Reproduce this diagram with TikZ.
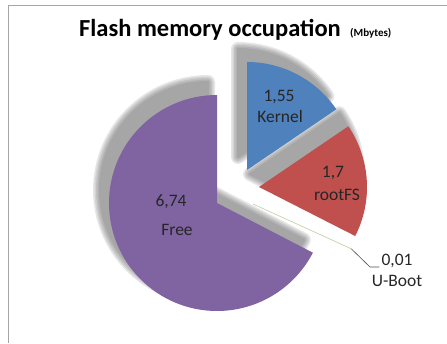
\documentclass[tikz,border=0pt]{standalone}
\usepackage{fontspec}
\setmainfont{Carlito}
\usepackage{tikz}
\usetikzlibrary{calc,positioning}
\definecolor{kernelblue}{RGB}{79,129,189}
\definecolor{rootred}{RGB}{192,80,77}
\definecolor{freepurple}{RGB}{128,100,162}
\definecolor{bootgreen}{RGB}{190,205,160}
\definecolor{framegray}{RGB}{165,165,165}
\tikzset{
  shadowlayer/.style={fill=black!60,draw=black!60,line join=round},
  lbl/.style={font=\fontsize{17.5}{20}\selectfont,inner sep=0pt,text=black!85},
  leader/.style={draw=black!70,line width=0.6pt},
}

\begin{document}
\begin{tikzpicture}[x=1pt,y=1pt]
\useasboundingbox (0,0) rectangle (447,343);
% frame of the chart area
\draw[framegray,line width=0.8pt] (8,0) -- (8,338) -- (447,338);
% title
\node[anchor=base west,inner sep=0pt,font=\fontsize{24.5}{28}\selectfont\bfseries] (title) at (79,306) {Flash memory occupation};
\node[anchor=base west,inner sep=0pt,font=\fontsize{11}{13}\selectfont\bfseries] (units) at (350,306) {(Mbytes)};
% slice centres
\coordinate (F) at (217,140);
\coordinate (K) at (247,173);
\coordinate (R) at (259,156);
\coordinate (U) at (253,139);
% soft shadows
\foreach \w in {14,11,8,5,2} {
  \begin{scope}[transparency group,opacity=0.16]
  \filldraw[shadowlayer,line width=\w pt] ($(F)+(-9,13)$) -- ++(90:108) arc[start angle=90,end angle=332.6,radius=108pt] -- cycle;
  \filldraw[shadowlayer,line width=\w pt] ($(K)+(-9,13)$) -- ++(34.2:108) arc[start angle=34.2,end angle=90,radius=108pt] -- cycle;
  \filldraw[shadowlayer,line width=\w pt] ($(R)+(-9,13)$) -- ++(-27:108) arc[start angle=-27,end angle=34.2,radius=108pt] -- cycle;
  \end{scope}
}
% slices
\fill[freepurple] (F) -- ++(90:108) arc[start angle=90,end angle=332.6,radius=108pt] -- cycle;
\fill[kernelblue] (K) -- ++(34.2:108) arc[start angle=34.2,end angle=90,radius=108pt] -- cycle;
\fill[rootred] (R) -- ++(-27:108) arc[start angle=-27,end angle=34.2,radius=108pt] -- cycle;
\draw[bootgreen,line width=0.6pt] (U) -- ++(-24.5:108) coordinate (ubootend);
% labels
\node[lbl] (kernelval) at (279,246) {1,55};
\node[lbl] (kernelname) at (280,227) {Kernel};
\node[lbl] (rootval) at (333,170) {1,7};
\node[lbl] (rootname) at (337,148) {rootFS};
\node[lbl] (freeval) at (171,141) {6,74};
\node[lbl] (freename) at (177,113) {Free};
\node[lbl,inner sep=2pt] (ubootval) at (397,82) {0,01};
\node[lbl] (ubootname) at (397,62) {U-Boot};
% leader line
\coordinate (ubootbend) at (370,76);
\draw[leader] (ubootend) -- (ubootbend) -- (ubootbend -| ubootval.west);
\end{tikzpicture}
\end{document}
